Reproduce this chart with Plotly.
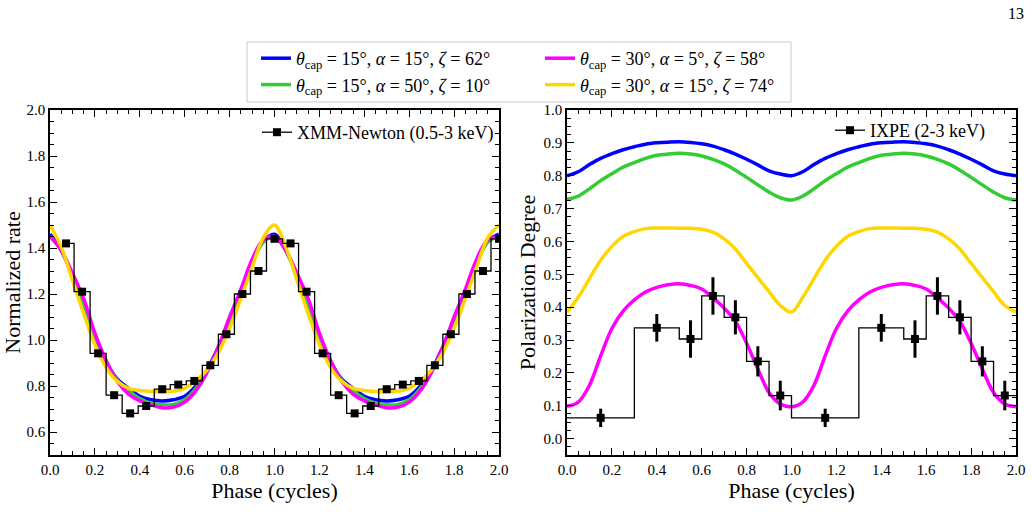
import plotly.graph_objects as go

# ---------------- data ----------------
phase_grid = [0.00, 0.05, 0.10, 0.15, 0.20, 0.25, 0.30, 0.35, 0.40, 0.45, 0.50,
              0.55, 0.60, 0.65, 0.70, 0.75, 0.80, 0.85, 0.90, 0.95, 1.00]

# normalized rate models (left panel)
rate_blue = [1.46, 1.39, 1.28, 1.16, 1.02, 0.905, 0.83, 0.79, 0.755, 0.74, 0.735,
             0.74, 0.755, 0.80, 0.87, 0.97, 1.09, 1.21, 1.34, 1.43, 1.46]
rate_green = [1.45, 1.39, 1.28, 1.16, 1.02, 0.91, 0.825, 0.78, 0.745, 0.725, 0.718,
              0.72, 0.74, 0.79, 0.865, 0.96, 1.085, 1.205, 1.33, 1.425, 1.45]
rate_magenta = [1.45, 1.39, 1.29, 1.18, 1.03, 0.91, 0.82, 0.765, 0.735, 0.718, 0.705,
                0.708, 0.73, 0.78, 0.86, 0.97, 1.10, 1.22, 1.35, 1.435, 1.45]
rate_yellow = [1.50, 1.405, 1.26, 1.115, 0.98, 0.88, 0.82, 0.79, 0.78, 0.776, 0.775,
               0.777, 0.79, 0.823, 0.87, 0.945, 1.05, 1.18, 1.315, 1.445, 1.50]

# polarization degree models (right panel)
pd_blue = [0.800, 0.812, 0.834, 0.853, 0.867, 0.879, 0.888, 0.896, 0.900, 0.902, 0.903,
           0.901, 0.897, 0.890, 0.879, 0.866, 0.850, 0.833, 0.815, 0.805, 0.800]
pd_green = [0.728, 0.738, 0.760, 0.785, 0.806, 0.826, 0.840, 0.853, 0.862, 0.866, 0.868,
            0.866, 0.860, 0.850, 0.836, 0.817, 0.795, 0.772, 0.750, 0.733, 0.726]
pd_magenta = [0.098, 0.111, 0.162, 0.252, 0.335, 0.388, 0.422, 0.446, 0.460, 0.468, 0.471,
              0.466, 0.455, 0.428, 0.397, 0.357, 0.290, 0.212, 0.140, 0.105, 0.097]
pd_yellow = [0.385, 0.430, 0.487, 0.543, 0.585, 0.615, 0.630, 0.639, 0.641, 0.641, 0.640,
             0.640, 0.637, 0.628, 0.608, 0.577, 0.533, 0.490, 0.447, 0.405, 0.385]

# XMM-Newton light curve (one cycle, bin centres)
xmm_phase = [0.0714, 0.1429, 0.2143, 0.2857, 0.3571, 0.4286, 0.5000,
             0.5714, 0.6429, 0.7143, 0.7857, 0.8571, 0.9286, 1.0000]
xmm_rate = [1.42, 1.21, 0.942, 0.76, 0.681, 0.713, 0.786,
            0.806, 0.822, 0.89, 1.025, 1.20, 1.30, 1.44]

# IXPE polarization degree (one cycle)
ixpe_edges = [0.0, 0.3, 0.5, 0.6, 0.7, 0.8, 0.9, 1.0]
ixpe_center = [0.15, 0.40, 0.55, 0.65, 0.75, 0.85, 0.95]
ixpe_pd = [0.063, 0.337, 0.303, 0.434, 0.369, 0.235, 0.131]
ixpe_err = [0.028, 0.042, 0.057, 0.057, 0.052, 0.046, 0.045]

model_labels = [
    "<i>θ</i><sub>cap</sub> = 15°, <i>α</i> = 15°, <i>ζ</i> = 62°",
    "<i>θ</i><sub>cap</sub> = 15°, <i>α</i> = 50°, <i>ζ</i> = 10°",
    "<i>θ</i><sub>cap</sub> = 30°, <i>α</i> = 5°, <i>ζ</i> = 58°",
    "<i>θ</i><sub>cap</sub> = 30°, <i>α</i> = 15°, <i>ζ</i> = 74°",
]
model_colors = ["#0000ff", "#33cc33", "#ff00ff", "#ffd700"]
model_legends = ["legend", "legend", "legend2", "legend2"]

x_ticks = [0.0, 0.2, 0.4, 0.6, 0.8, 1.0, 1.2, 1.4, 1.6, 1.8, 2.0]
rate_ticks = [0.6, 0.8, 1.0, 1.2, 1.4, 1.6, 1.8, 2.0]
pd_ticks = [0.0, 0.1, 0.2, 0.3, 0.4, 0.5, 0.6, 0.7, 0.8, 0.9, 1.0]


def two_cycles(xs, ys):
    return list(xs) + [x + 1 for x in xs[1:]], list(ys) + list(ys[1:])


FONT = "Liberation Serif"
W, H = 1032, 520

fig = go.Figure()

# ---------------- left panel ----------------
rate_models = [rate_blue, rate_green, rate_magenta, rate_yellow]
for i, ys in enumerate(rate_models):
    xx, yy = two_cycles(phase_grid, ys)
    fig.add_trace(go.Scatter(
        x=xx, y=yy, mode="lines", line=dict(color=model_colors[i], width=3.5, shape="spline"),
        name=model_labels[i], legend=model_legends[i], xaxis="x", yaxis="y"))

xmm_x = xmm_phase + [p + 1 for p in xmm_phase]
xmm_y = xmm_rate + xmm_rate
fig.add_trace(go.Scatter(
    x=xmm_x, y=xmm_y, mode="lines+markers",
    line=dict(color="black", width=1.3, shape="hvh"),
    marker=dict(symbol="square", size=8, color="black"),
    name="XMM-Newton (0.5-3 keV)", legend="legend3", xaxis="x", yaxis="y"))

# ---------------- right panel ----------------
pd_models = [pd_blue, pd_green, pd_magenta, pd_yellow]
for i, ys in enumerate(pd_models):
    xx, yy = two_cycles(phase_grid, ys)
    fig.add_trace(go.Scatter(
        x=xx, y=yy, mode="lines", line=dict(color=model_colors[i], width=3.5, shape="spline"),
        showlegend=False, xaxis="x2", yaxis="y2"))

step_x = ixpe_edges[:-1] + [e + 1 for e in ixpe_edges[:-1]] + [2.0]
step_y = ixpe_pd + ixpe_pd + [ixpe_pd[-1]]
fig.add_trace(go.Scatter(
    x=step_x, y=step_y, mode="lines", line=dict(color="black", width=1.3, shape="hv"),
    showlegend=False, xaxis="x2", yaxis="y2"))
fig.add_trace(go.Scatter(
    x=ixpe_center + [c + 1 for c in ixpe_center], y=ixpe_pd + ixpe_pd, mode="markers",
    marker=dict(symbol="square", size=8, color="black"),
    error_y=dict(type="data", array=ixpe_err + ixpe_err, color="black", thickness=3, width=0),
    showlegend=False, xaxis="x2", yaxis="y2"))
fig.add_trace(go.Scatter(
    x=[None], y=[None], mode="lines+markers",
    line=dict(color="black", width=1.3),
    marker=dict(symbol="square", size=8, color="black"),
    name="IXPE (2-3 keV)", legend="legend4", xaxis="x2", yaxis="y2"))

# ---------------- axes ----------------
def px_x(v):
    return v / W


def px_y(v):
    return 1 - v / H


common = dict(
    showline=True, linecolor="black", linewidth=1.5, mirror="allticks",
    ticks="inside", ticklen=7, tickwidth=1.3, tickcolor="black",
    showgrid=False, zeroline=False, automargin=False,
    tickfont=dict(family=FONT, size=15, color="black"),
)
minor_x = dict(dtick=0.05, ticks="inside", ticklen=4, tickwidth=1, tickcolor="black", showgrid=False)

ydom = [px_y(455), px_y(110)]
TITLE_SIZE = 22

fig.update_layout(
    width=W, height=H,
    margin=dict(l=0, r=0, t=0, b=0),
    paper_bgcolor="white", plot_bgcolor="white",
    font=dict(family=FONT, color="black"),
    xaxis=dict(domain=[px_x(50), px_x(499)], range=[0, 2], tickvals=x_ticks, tickformat=".1f",
               minor=minor_x, anchor="y",
               title=dict(text="Phase (cycles)", font=dict(family=FONT, size=TITLE_SIZE), standoff=0),
               **common),
    yaxis=dict(domain=ydom, range=[0.5, 2.0], tickvals=rate_ticks, tickformat=".1f",
               minor=dict(dtick=0.05, ticks="inside", ticklen=4, tickwidth=1, tickcolor="black", showgrid=False),
               anchor="x",
               title=dict(text="Normalized rate", font=dict(family=FONT, size=TITLE_SIZE), standoff=0),
               **common),
    xaxis2=dict(domain=[px_x(567), px_x(1016)], range=[0, 2], tickvals=x_ticks, tickformat=".1f",
                minor=minor_x, anchor="y2",
                title=dict(text="Phase (cycles)", font=dict(family=FONT, size=TITLE_SIZE), standoff=0),
                **common),
    yaxis2=dict(domain=ydom, range=[-0.05, 1.0], tickvals=pd_ticks, tickformat=".1f",
                minor=dict(dtick=0.025, ticks="inside", ticklen=4, tickwidth=1, tickcolor="black", showgrid=False),
                anchor="x2",
                title=dict(text="Polarization Degree", font=dict(family=FONT, size=TITLE_SIZE), standoff=2),
                **common),
    legend=dict(x=px_x(256), y=px_y(40), xanchor="left", yanchor="top",
                bgcolor="rgba(0,0,0,0)", font=dict(family=FONT, size=18), tracegroupgap=0),
    legend2=dict(x=px_x(540), y=px_y(40), xanchor="left", yanchor="top",
                 bgcolor="rgba(0,0,0,0)", font=dict(family=FONT, size=18), tracegroupgap=0),
    legend3=dict(x=px_x(499), y=px_y(114), xanchor="right", yanchor="top",
                 bgcolor="rgba(0,0,0,0)", font=dict(family=FONT, size=18), itemwidth=30),
    legend4=dict(x=px_x(990), y=px_y(112), xanchor="right", yanchor="top",
                 bgcolor="rgba(0,0,0,0)", font=dict(family=FONT, size=18), itemwidth=30),
    shapes=[dict(type="rect", xref="paper", yref="paper",
                 x0=px_x(247), x1=px_x(791), y0=px_y(102), y1=px_y(42),
                 line=dict(color="#cccccc", width=1), fillcolor="white", layer="below")],
    annotations=[dict(text="13", x=px_x(1026), y=px_y(13), xref="paper", yref="paper",
                      xanchor="right", yanchor="middle", showarrow=False,
                      font=dict(family=FONT, size=16, color="black"))],
)

fig.write_html("out.html")
